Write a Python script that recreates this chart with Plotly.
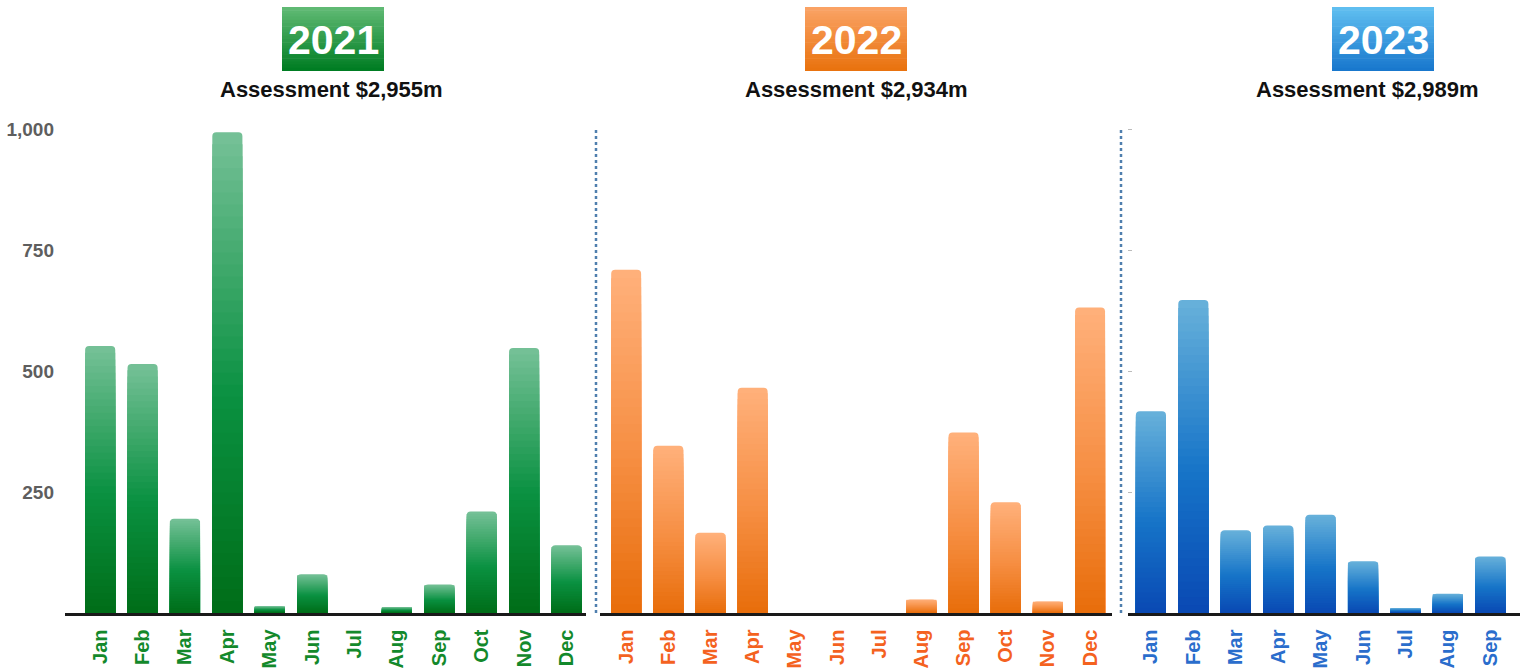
import plotly.graph_objects as go

W, H = 1522, 669

years = ["2021", "2022", "2023"]
assessments = ["Assessment $2,955m", "Assessment $2,934m", "Assessment $2,989m"]
months_2021 = ["Jan", "Feb", "Mar", "Apr", "May", "Jun", "Jul", "Aug", "Sep", "Oct", "Nov", "Dec"]
months_2022 = ["Jan", "Feb", "Mar", "Apr", "May", "Jun", "Jul", "Aug", "Sep", "Oct", "Nov", "Dec"]
months_2023 = ["Jan", "Feb", "Mar", "Apr", "May", "Jun", "Jul", "Aug", "Sep"]
values_2021 = [552, 515, 195, 994, 14, 80, 0, 12, 59, 210, 548, 140]
values_2022 = [710, 346, 166, 466, 0, 0, 0, 28, 373, 229, 24, 632]
values_2023 = [417, 647, 171, 181, 203, 107, 10, 40, 117]
y_ticks = [250, 500, 750, 1000]

panels = [
    dict(months=months_2021, values=values_2021,
         stops=[(116, 192, 150), (10, 145, 65), (0, 110, 25)],
         box=[(95, 185, 115), (0, 125, 35)], label="#13892b",
         dom=(65, 586), rng=(-0.83, 11.46), box_x=(282, 384), title_x=331),
    dict(months=months_2022, values=values_2022,
         stops=[(255, 176, 122), (246, 142, 66), (232, 110, 12)],
         box=[(250, 162, 100), (233, 115, 15)], label="#f4621f",
         dom=(600, 1112), rng=(-0.62, 11.52), box_x=(805, 907), title_x=856),
    dict(months=months_2023, values=values_2023,
         stops=[(102, 176, 218), (22, 116, 200), (10, 74, 180)],
         box=[(95, 190, 240), (25, 120, 205)], label="#2a6dcc",
         dom=(1128, 1520), rng=(-0.54, 8.7), box_x=(1332, 1434), title_x=1367),
]

FONT = "Liberation Sans, Arial, sans-serif"


def lerp(c1, c2, t):
    return tuple(round(a + (b - a) * t) for a, b in zip(c1, c2))


def grad(stops, t):
    # t: 0 = top, 1 = bottom
    if t <= 0.55:
        return lerp(stops[0], stops[1], t / 0.55)
    return lerp(stops[1], stops[2], (t - 0.55) / 0.45)


def rgb(c):
    return "rgb(%d,%d,%d)" % c


fig = go.Figure()
N = 40
y_bot = 613
y_top = 127
ydom = ((H - y_bot) / H, (H - y_top) / H)

for i, p in enumerate(panels):
    xa = "x" if i == 0 else "x%d" % (i + 1)
    ya = "y" if i == 0 else "y%d" % (i + 1)
    for k in range(N):
        f = 1 - k / N
        t = k / (N - 1)
        fig.add_trace(go.Bar(
            x=p["months"], y=[v * f for v in p["values"]],
            xaxis=xa, yaxis=ya, width=0.71,
            marker=dict(color=rgb(grad(p["stops"], t)), line=dict(width=0),
                        cornerradius=4 if k == 0 else 0),
            showlegend=False, hoverinfo="skip"))

layout = dict(
    width=W, height=H, barmode="overlay",
    margin=dict(l=0, r=0, t=0, b=0),
    paper_bgcolor="white", plot_bgcolor="white",
    showlegend=False,
)

for i, p in enumerate(panels):
    sx = "" if i == 0 else str(i + 1)
    layout["xaxis" + sx] = dict(
        domain=[p["dom"][0] / W, p["dom"][1] / W], range=list(p["rng"]),
        anchor="y" + sx, showline=True, linecolor="#1a1a1a", linewidth=2.5,
        showgrid=False, zeroline=False, ticks="", tickangle=-90,
        tickfont=dict(family=FONT, size=20, color=p["label"], weight="bold"),
        ticklabelstandoff=6, automargin=False, fixedrange=True)
    ycfg = dict(
        domain=list(ydom), range=[0, 1005], anchor="x" + sx,
        showgrid=False, zeroline=False, showline=False,
        tickvals=y_ticks, automargin=False, fixedrange=True)
    if i == 0:
        ycfg.update(tickformat=",", ticks="",
                    tickfont=dict(family=FONT, size=19, color="#5e5e5e", weight="bold"),
                    ticklabelstandoff=10)
    elif i == 2:
        ycfg.update(showticklabels=False, ticks="inside", ticklen=4, tickwidth=1,
                    tickcolor="#bbbbbb")
    else:
        ycfg.update(showticklabels=False, ticks="")
    layout["yaxis" + sx] = ycfg

shapes = []
annotations = []
for i, p in enumerate(panels):
    x0, x1 = p["box_x"]
    by0, by1 = 7, 71
    nb = 20
    for b in range(nb):
        t = b / (nb - 1)
        ya0 = by0 + (by1 - by0) * b / nb
        ya1 = by0 + (by1 - by0) * (b + 1) / nb + 0.5
        shapes.append(dict(type="rect", xref="paper", yref="paper",
                           x0=x0 / W, x1=x1 / W, y0=1 - min(ya1, by1) / H, y1=1 - ya0 / H,
                           fillcolor=rgb(lerp(p["box"][0], p["box"][1], t)),
                           line=dict(width=0), layer="below"))
    annotations.append(dict(
        text=years[i], xref="paper", yref="paper",
        x=(x0 + x1) / 2 / W, y=1 - 40 / H, xanchor="center", yanchor="middle",
        showarrow=False,
        font=dict(family=FONT, size=41, color="white", weight="bold")))
    annotations.append(dict(
        text=assessments[i], xref="paper", yref="paper",
        x=p["title_x"] / W, y=1 - 90 / H, xanchor="center", yanchor="middle",
        showarrow=False,
        font=dict(family=FONT, size=22, color="#111111", weight="bold")))

for xs in (596, 1121):
    shapes.append(dict(type="line", xref="paper", yref="paper",
                       x0=xs / W, x1=xs / W, y0=1 - 613 / H, y1=1 - 127 / H,
                       line=dict(color="#4f7fae", width=2.5, dash="dot")))

layout["shapes"] = shapes
layout["annotations"] = annotations
fig.update_layout(**layout)
fig.write_html("out.html", config={"displayModeBar": False, "staticPlot": True},
               post_script="document.body.style.margin='0';document.body.style.padding='0';"
                           "document.body.style.overflow='hidden';")
